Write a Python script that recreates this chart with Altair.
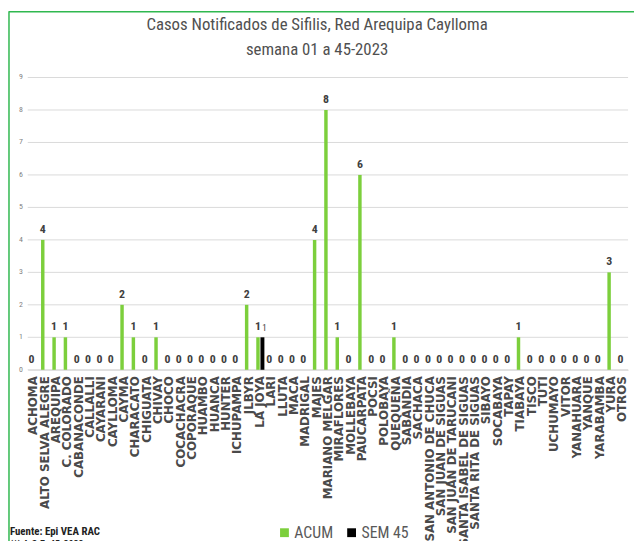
import altair as alt
import pandas as pd

categories = ["ACHOMA", "ALTO SELVA ALEGRE", "AREQUIPA", "C. COLORADO", "CABANACONDE",
              "CALLALLI", "CAYARANI", "CAYLLOMA", "CAYMA", "CHARACATO", "CHIGUATA",
              "CHIVAY", "CHOCO", "COCACHACRA", "COPORAQUE", "HUAMBO", "HUANCA", "HUNTER",
              "ICHUPAMPA", "JLBYR", "LA JOYA", "LARI", "LLUTA", "MACA", "MADRIGAL",
              "MAJES", "MARIANO MELGAR", "MIRAFLORES", "MOLLEBAYA", "PAUCARPATA", "POCSI",
              "POLOBAYA", "QUEQUEÑA", "SABANDIA", "SACHACA", "SAN ANTONIO DE CHUCA",
              "SAN JUAN DE SIGUAS", "SAN JUAN DE TARUCANI", "SANTA ISABEL DE SIGUAS",
              "SANTA RITA DE SIGUAS", "SIBAYO", "SOCABAYA", "TAPAY", "TIABAYA", "TISCO",
              "TUTI", "UCHUMAYO", "VITOR", "YANAHUARA", "YANQUE", "YARABAMBA", "YURA",
              "OTROS"]
acum = [0, 4, 1, 1, 0, 0, 0, 0, 2, 1, 0, 1, 0, 0, 0, 0, 0, 0, 0, 2, 1, 0, 0, 0, 0,
        4, 8, 1, 0, 6, 0, 0, 1, 0, 0, 0, 0, 0, 0, 0, 0, 0, 0, 1, 0, 0, 0, 0, 0, 0, 0,
        3, 0]
sem45 = [0, 0, 0, 0, 0, 0, 0, 0, 0, 0, 0, 0, 0, 0, 0, 0, 0, 0, 0, 0, 1, 0, 0, 0, 0,
         0, 0, 0, 0, 0, 0, 0, 0, 0, 0, 0, 0, 0, 0, 0, 0, 0, 0, 0, 0, 0, 0, 0, 0, 0, 0,
         0, 0]
series_names = ["ACUM", "SEM 45"]
y_ticks = [0, 1, 2, 3, 4, 5, 6, 7, 8, 9]
title_lines = ["Casos Notificados de Sifilis, Red Arequipa Caylloma", "semana 01 a 45-2023"]
footer_lines = ["Fuente: Epi VEA RAC", "(*) A.S.E. 45-2023"]

rows = []
for c, a, s in zip(categories, acum, sem45):
    rows.append({"cat": c, "series": series_names[0], "value": a})
    rows.append({"cat": c, "series": series_names[1], "value": s})
df = pd.DataFrame(rows)
ticks_df = pd.DataFrame({"tick": y_ticks})
one = pd.DataFrame({"k": [0]})

NARROW = "Liberation Sans Narrow, Arial Narrow, Roboto Condensed, Liberation Sans, sans-serif"
GREEN = "#7ccf3c"

y_scale = alt.Scale(domain=[0, 9], nice=False, zero=True)

x_enc = alt.X("cat:N", sort=categories, title=None,
              scale=alt.Scale(paddingInner=0, paddingOuter=0),
              axis=alt.Axis(labelAngle=-90, labelAlign="right", labelBaseline="middle",
                            labelFont="DejaVu Sans", labelFontWeight="bold",
                            labelFontSize=12, labelColor="#4a4a4a", labelPadding=6,
                            ticks=False, domainColor="#d9d9d9", labelOverlap=False,
                            labelLimit=300))
y_enc = alt.Y("value:Q", title=None, scale=y_scale, axis=None)
color_enc = alt.Color("series:N",
                      scale=alt.Scale(domain=series_names, range=[GREEN, "#000000"]),
                      legend=alt.Legend(title=None, orient="none", legendX=252, legendY=453,
                                        direction="horizontal", symbolType="square",
                                        symbolSize=80, symbolStrokeWidth=0,
                                        labelFont=NARROW, labelFontSize=16,
                                        labelColor="#595959", columnPadding=10,
                                        labelOffset=2))

grid = alt.Chart(ticks_df).mark_rule(color="#d9d9d9", strokeWidth=1).encode(
    y=alt.Y("tick:Q", scale=y_scale, axis=None))
ylabels = alt.Chart(ticks_df).mark_text(align="right", baseline="middle", font=NARROW,
                                        fontSize=8, color="#7f7f7f", dx=-5).encode(
    x=alt.value(0), y=alt.Y("tick:Q", scale=y_scale, axis=None), text="tick:Q")

base = alt.Chart(df).encode(x=x_enc, y=y_enc)

bars_acum = base.mark_bar(width=3.5, xOffset=-2).encode(
    color=color_enc
).transform_filter(alt.datum.series == "ACUM")
bars_sem = base.mark_bar(width=4, xOffset=2.5).encode(
    color=color_enc
).transform_filter(alt.datum.series == "SEM 45")

text_acum = base.mark_text(xOffset=-2, dy=-4, baseline="bottom", font=NARROW,
                           fontWeight="bold", fontSize=12, color="#404040").encode(
    text="value:Q"
).transform_filter(alt.datum.series == "ACUM")
text_sem = base.mark_text(xOffset=4.5, dy=-4, baseline="bottom", font=NARROW,
                          fontSize=9, color="#404040").encode(
    text="value:Q"
).transform_filter((alt.datum.series == "SEM 45") & (alt.datum.value > 0))

frame_left = alt.Chart(one).mark_rule(color="#2fb84f", strokeWidth=1.5).encode(
    x=alt.value(-19), y=alt.value(-67), y2=alt.value(470))
frame_top = alt.Chart(one).mark_rule(color="#2fb84f", strokeWidth=1.5).encode(
    x=alt.value(-19), x2=alt.value(615), y=alt.value(-66.5))

title1 = alt.Chart(one).mark_text(align="center", baseline="middle", font=NARROW,
                                  fontSize=17, color="#505050", text=title_lines[0]).encode(
    x=alt.value(293), y=alt.value(-53))
title2 = alt.Chart(one).mark_text(align="center", baseline="middle", font=NARROW,
                                  fontSize=17, color="#505050", text=title_lines[1]).encode(
    x=alt.value(293), y=alt.value(-28))

footer1 = alt.Chart(one).mark_text(align="left", baseline="middle", font=NARROW,
                                   fontWeight="bold", fontSize=11, color="#222222",
                                   text=footer_lines[0]).encode(
    x=alt.value(-18), y=alt.value(460))
footer2 = alt.Chart(one).mark_text(align="left", baseline="top", font=NARROW,
                                   fontWeight="bold", fontSize=10, color="#222222",
                                   text=footer_lines[1]).encode(
    x=alt.value(-18), y=alt.value(467))

chart = alt.layer(
    grid, ylabels, bars_acum, bars_sem, text_acum, text_sem, frame_left, frame_top,
    title1, title2, footer1, footer2
).properties(
    width=608, height=296,
    padding={"left": 20, "top": 67, "right": 6, "bottom": 170},
    autosize=alt.AutoSizeParams(type="none"),
).configure_view(stroke=None)

chart.save("out.html", embed_options={"renderer": "svg", "actions": False})
